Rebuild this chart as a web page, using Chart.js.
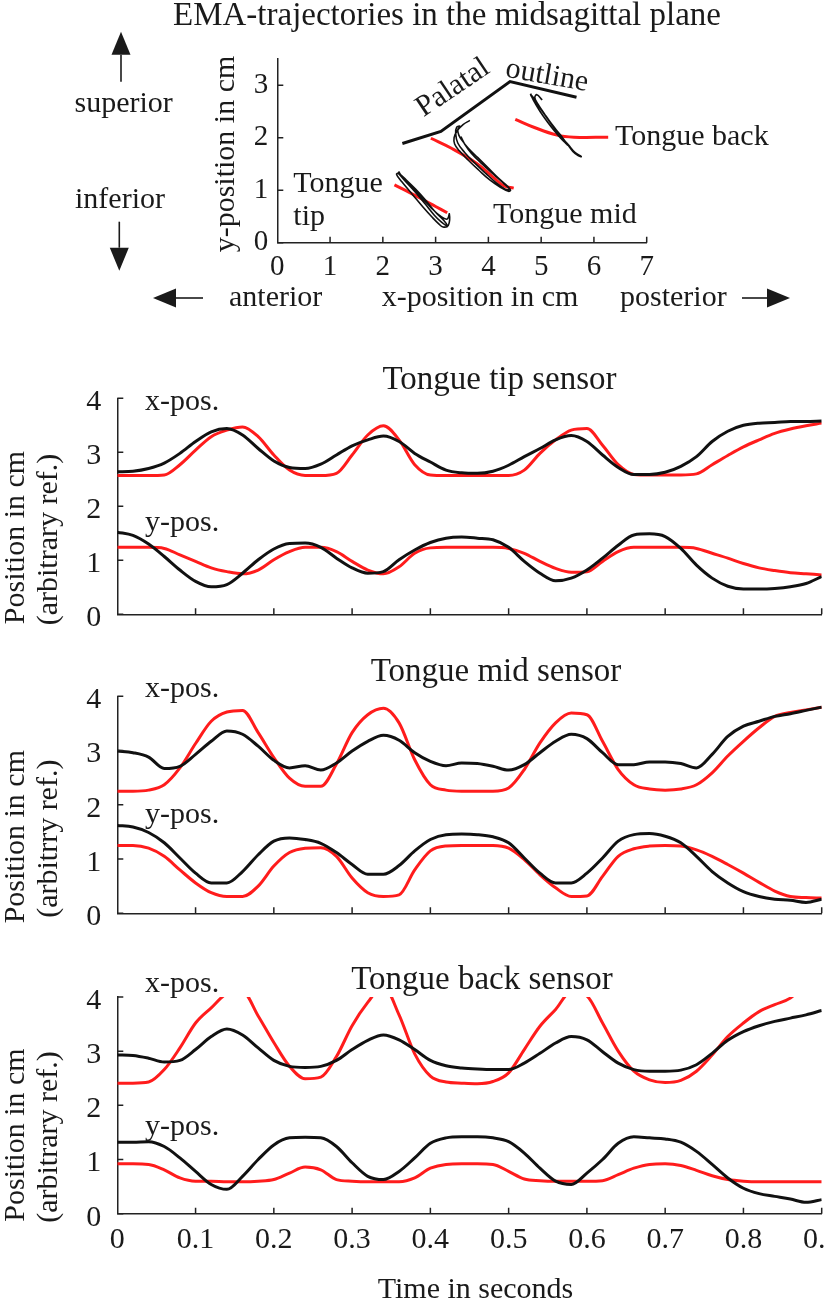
<!DOCTYPE html>
<html>
<head>
<meta charset="utf-8">
<script src="https://cdn.jsdelivr.net/npm/chart.js@4.4.1/dist/chart.umd.min.js"></script>
<style>
html,body{margin:0;padding:0;background:#fff;width:826px;height:1302px;overflow:hidden}
canvas{position:absolute;left:0;top:0}
</style>
</head>
<body>
<canvas id="c0" width="826" height="1302"></canvas>
<canvas id="c1" width="826" height="1302"></canvas>
<canvas id="c2" width="826" height="1302"></canvas>
<canvas id="c3" width="826" height="1302"></canvas>
<script>
// ---------------- DATA ----------------
// Time axis (seconds)
const times = [0,0.02,0.04,0.06,0.08,0.10,0.12,0.14,0.16,0.18,0.20,0.22,0.24,0.26,0.28,0.30,0.32,0.34,0.36,0.38,0.40,0.42,0.44,0.46,0.48,0.50,0.52,0.54,0.56,0.58,0.60,0.62,0.64,0.66,0.68,0.70,0.72,0.74,0.76,0.78,0.80,0.82,0.84,0.86,0.88,0.90];
const timeTicks = [0,0.1,0.2,0.3,0.4,0.5,0.6,0.7,0.8,0.9];

// Tongue tip sensor (measured = black, model = red)
const tipXMeasured = [2.64,2.65,2.70,2.80,2.98,3.20,3.38,3.44,3.32,3.07,2.84,2.72,2.70,2.78,2.95,3.12,3.23,3.30,3.20,2.98,2.82,2.67,2.62,2.61,2.65,2.76,2.92,3.07,3.23,3.31,3.20,2.95,2.72,2.59,2.59,2.63,2.74,2.92,3.20,3.39,3.50,3.54,3.55,3.57,3.57,3.58];
const tipXModel    = [2.57,2.57,2.57,2.58,2.77,3.04,3.29,3.41,3.47,3.29,2.95,2.67,2.57,2.57,2.61,2.95,3.32,3.49,3.23,2.77,2.58,2.57,2.57,2.57,2.57,2.57,2.67,2.98,3.23,3.41,3.44,3.13,2.77,2.59,2.58,2.58,2.58,2.60,2.77,2.94,3.10,3.23,3.35,3.43,3.49,3.54];
const tipYMeasured = [1.52,1.46,1.30,1.07,0.82,0.61,0.51,0.55,0.76,1.01,1.21,1.31,1.32,1.24,1.04,0.86,0.76,0.79,1.01,1.19,1.33,1.41,1.43,1.41,1.38,1.24,0.98,0.76,0.62,0.67,0.82,1.04,1.28,1.47,1.49,1.44,1.22,0.91,0.67,0.52,0.47,0.47,0.48,0.51,0.57,0.70];
const tipYModel    = [1.24,1.24,1.24,1.22,1.10,0.98,0.86,0.79,0.75,0.82,1.01,1.16,1.24,1.24,1.16,0.98,0.82,0.75,0.88,1.13,1.23,1.24,1.24,1.24,1.24,1.22,1.13,0.98,0.85,0.78,0.79,0.98,1.16,1.24,1.24,1.24,1.24,1.22,1.13,1.04,0.94,0.86,0.81,0.77,0.75,0.73];

// Tongue mid sensor
const midXMeasured = [2.99,2.96,2.88,2.67,2.71,2.93,3.17,3.36,3.30,3.08,2.82,2.68,2.72,2.64,2.77,2.99,3.17,3.28,3.19,2.96,2.80,2.72,2.77,2.76,2.71,2.64,2.74,2.96,3.17,3.30,3.22,2.96,2.74,2.74,2.79,2.79,2.76,2.68,2.93,3.26,3.45,3.54,3.63,3.68,3.74,3.80];
const midXModel    = [2.25,2.25,2.27,2.37,2.68,3.13,3.54,3.71,3.74,3.33,2.87,2.49,2.34,2.34,2.75,3.33,3.66,3.78,3.51,2.83,2.37,2.27,2.25,2.25,2.25,2.31,2.65,3.14,3.51,3.69,3.66,3.17,2.65,2.37,2.29,2.27,2.29,2.37,2.59,2.90,3.17,3.42,3.63,3.70,3.75,3.80];
const midYMeasured = [1.62,1.59,1.49,1.30,1.02,0.74,0.56,0.56,0.77,1.08,1.33,1.39,1.36,1.29,1.12,0.90,0.72,0.72,0.88,1.15,1.36,1.45,1.46,1.45,1.41,1.30,1.02,0.74,0.56,0.56,0.74,1.02,1.33,1.45,1.47,1.42,1.30,1.05,0.77,0.56,0.40,0.31,0.26,0.24,0.20,0.26];
const midYModel    = [1.25,1.25,1.20,1.05,0.80,0.56,0.38,0.31,0.31,0.50,0.87,1.12,1.20,1.21,1.05,0.65,0.38,0.31,0.34,0.80,1.15,1.24,1.25,1.25,1.25,1.20,0.99,0.71,0.47,0.31,0.32,0.68,1.05,1.19,1.24,1.25,1.24,1.17,1.05,0.90,0.74,0.57,0.41,0.31,0.29,0.28];

// Tongue back sensor
const backXMeasured = [2.93,2.92,2.87,2.80,2.83,3.03,3.27,3.41,3.30,3.06,2.83,2.72,2.70,2.72,2.83,3.03,3.20,3.30,3.21,3.03,2.83,2.73,2.69,2.67,2.66,2.66,2.78,2.96,3.15,3.27,3.21,2.99,2.78,2.66,2.63,2.63,2.65,2.75,2.96,3.20,3.36,3.47,3.55,3.61,3.67,3.75];
const backXModel    = [2.41,2.41,2.43,2.66,3.06,3.52,3.80,4.06,4.10,3.65,3.16,2.72,2.49,2.52,2.90,3.47,3.90,4.20,3.67,2.95,2.54,2.43,2.41,2.40,2.44,2.60,3.03,3.46,3.77,4.10,4.02,3.52,3.00,2.63,2.47,2.42,2.46,2.63,2.93,3.27,3.52,3.73,3.86,3.98,4.25,4.40];
const backYMeasured = [1.32,1.32,1.33,1.24,1.03,0.78,0.54,0.45,0.69,1.00,1.27,1.40,1.41,1.40,1.24,0.94,0.69,0.63,0.78,1.03,1.30,1.40,1.42,1.42,1.40,1.33,1.12,0.84,0.60,0.54,0.75,1.00,1.30,1.42,1.40,1.38,1.32,1.15,0.91,0.66,0.47,0.37,0.32,0.27,0.21,0.26];
const backYModel    = [0.92,0.92,0.91,0.81,0.66,0.60,0.60,0.59,0.59,0.60,0.63,0.75,0.86,0.81,0.63,0.60,0.59,0.59,0.59,0.66,0.84,0.91,0.92,0.92,0.91,0.78,0.64,0.61,0.60,0.60,0.60,0.61,0.72,0.84,0.91,0.92,0.89,0.80,0.70,0.63,0.60,0.59,0.59,0.59,0.59,0.59];

// Midsagittal trajectories (x, y in cm)
const palatalX = [2.37,3.10,4.41,5.67];
const palatalY = [1.89,2.12,3.07,2.77];
const tipTrajX = [2.28,2.40,2.60,2.80,2.98,3.10,3.18,3.22,3.16,3.00,2.82,2.62,2.44,2.30,2.26,2.36,2.56,2.76,2.94,3.06,3.14,3.24,3.26,3.22,3.10,2.92,2.72,2.52,2.36,2.30];
const tipTrajY = [1.34,1.20,0.98,0.74,0.52,0.40,0.34,0.33,0.42,0.58,0.80,1.02,1.20,1.32,1.30,1.16,0.92,0.68,0.48,0.36,0.30,0.33,0.55,0.45,0.50,0.66,0.88,1.10,1.26,1.36];
const midTrajX = [3.65,3.52,3.40,3.35,3.36,3.45,3.62,3.82,4.02,4.22,4.38,4.42,4.36,4.20,4.00,3.80,3.62,3.50,3.44,3.42,3.46,3.40,3.38,3.42,3.55,3.74,3.95,4.15,4.32,4.40,4.30,4.10,3.88,3.68,3.55,3.48];
const midTrajY = [2.33,2.25,2.12,2.00,1.88,1.75,1.57,1.38,1.20,1.06,0.98,1.00,1.08,1.22,1.42,1.62,1.80,1.95,2.05,2.15,2.22,2.20,2.08,1.90,1.72,1.52,1.32,1.14,1.02,1.02,1.12,1.30,1.50,1.70,1.88,2.02];
const backTrajX = [4.80,4.86,4.98,5.12,5.26,5.38,5.46,5.50,5.42,5.28,5.12,4.98,4.86,4.80,4.84,4.96,5.10,5.24,5.38,5.52,5.64,5.76,5.70,5.60,5.48,5.36,5.20,5.06,4.94,4.88,4.92,5.02];
const backTrajY = [2.84,2.70,2.50,2.30,2.12,1.98,1.90,1.86,1.96,2.14,2.36,2.56,2.72,2.82,2.78,2.60,2.40,2.20,2.02,1.86,1.72,1.64,1.66,1.74,1.90,2.06,2.26,2.46,2.64,2.76,2.82,2.72];
const tipModelX = [2.22,2.50,2.80,3.00,3.22];
const tipModelY = [1.10,0.96,0.80,0.69,0.57];
const midModelX = [2.91,3.30,3.78,4.10,4.30,4.48];
const midModelY = [1.99,1.80,1.51,1.24,1.08,1.04];
const backModelX = [4.51,4.86,5.30,5.62,6.27];
const backModelY = [2.35,2.20,2.05,2.01,2.01];

// ---------------- STYLE / HELPERS ----------------
const FONT = "'Liberation Serif', 'Times New Roman', Times, serif";
const TXT = '#1a1a1a', AX = '#222', BLK = '#111', RED = 'rgb(255,28,28)';
Chart.defaults.font.family = FONT;
Chart.defaults.color = TXT;
Chart.defaults.animation = false;
const PW = 826, PH = 1302, AXW = 60, AXH = 40;

const toXY = (xs, ys) => xs.map((x, i) => ({x: x, y: ys[i]}));

function fixScale(w, h) {
  return function (s) {
    if (w != null) s.width = w;
    if (h != null) s.height = h;
    s.paddingLeft = 0; s.paddingRight = 0; s.paddingTop = 0; s.paddingBottom = 0;
  };
}

const textPlugin = {
  id: 'texts',
  afterDraw(chart, args, opts) {
    const ctx = chart.ctx;
    (opts.items || []).forEach(it => {
      ctx.save();
      ctx.font = (it.size || 30) + 'px ' + FONT;
      ctx.fillStyle = TXT;
      ctx.textAlign = it.align || 'center';
      ctx.textBaseline = it.base || 'alphabetic';
      ctx.translate(it.x, it.y);
      if (it.rot) ctx.rotate(it.rot * Math.PI / 180);
      ctx.fillText(it.text, 0, 0);
      ctx.restore();
    });
    (opts.arrows || []).forEach(a => {
      const dx = a.x2 - a.x1, dy = a.y2 - a.y1, len = Math.hypot(dx, dy);
      const ux = dx / len, uy = dy / len, hl = 23, hw = 9.5;
      const bx = a.x2 - ux * hl, by = a.y2 - uy * hl;
      ctx.save();
      ctx.strokeStyle = TXT; ctx.fillStyle = TXT; ctx.lineWidth = 1.6;
      ctx.beginPath(); ctx.moveTo(a.x1, a.y1); ctx.lineTo(bx, by); ctx.stroke();
      ctx.beginPath(); ctx.moveTo(a.x2, a.y2);
      ctx.lineTo(bx - uy * hw, by + ux * hw); ctx.lineTo(bx + uy * hw, by - ux * hw);
      ctx.closePath(); ctx.fill();
      ctx.restore();
    });
  }
};

const innerTicks = {
  id: 'innerTicks',
  afterDraw(chart, args, opts) {
    const ctx = chart.ctx, a = chart.chartArea, L = opts.len || 6;
    const xs = chart.scales.x, ys = chart.scales.y;
    ctx.save(); ctx.strokeStyle = AX; ctx.lineWidth = 1.5;
    ctx.beginPath();
    xs.ticks.forEach(t => {
      if (t.value <= xs.min + 1e-9) return;
      const p = xs.getPixelForValue(t.value);
      ctx.moveTo(p, a.bottom); ctx.lineTo(p, a.bottom - L);
    });
    ys.ticks.forEach(t => {
      const p = ys.getPixelForValue(t.value);
      ctx.moveTo(a.left, p); ctx.lineTo(a.left + L, p);
    });
    ctx.stroke(); ctx.restore();
  }
};

function lineDs(xs, ys, color, width, tension) {
  return { data: toXY(xs, ys), showLine: true, borderColor: color, backgroundColor: color,
    borderWidth: width, pointRadius: 0, tension: tension, fill: false };
}
function seriesDs(vals, color) {
  return { data: toXY(times, vals), borderColor: color, backgroundColor: color, borderWidth: 3,
    pointRadius: 0, cubicInterpolationMode: 'monotone', fill: false, clip: 0 };
}

// ---------------- TOP: trajectories ----------------
(function () {
  const area = {l: 277.3, r: 646.7, t: 59, b: 242.7};
  new Chart(document.getElementById('c0'), {
    type: 'scatter',
    data: { datasets: [
      lineDs(palatalX, palatalY, BLK, 3, 0),
      lineDs(tipTrajX, tipTrajY, BLK, 1.6, 0.4),
      lineDs(midTrajX, midTrajY, BLK, 1.6, 0.4),
      lineDs(backTrajX, backTrajY, BLK, 1.6, 0.4),
      lineDs(tipModelX, tipModelY, RED, 3, 0.4),
      lineDs(midModelX, midModelY, RED, 3, 0.4),
      lineDs(backModelX, backModelY, RED, 3, 0.4)
    ]},
    options: {
      responsive: false, events: [],
      layout: { padding: { left: area.l - AXW, right: PW - area.r, top: area.t, bottom: PH - area.b - AXH } },
      plugins: {
        legend: {display: false}, tooltip: {enabled: false},
        innerTicks: {len: 6},
        texts: {
          items: [
            {text: 'EMA-trajectories in the midsagittal plane', x: 173, y: 25, size: 33, align: 'left'},
            {text: 'superior', x: 123.7, y: 111.7},
            {text: 'inferior', x: 120, y: 208.3},
            {text: 'y-position in cm', x: 234, y: 154, rot: -90},
            {text: 'Tongue', x: 293.3, y: 191.7, align: 'left'},
            {text: 'tip', x: 293.3, y: 225, align: 'left'},
            {text: 'Tongue mid', x: 493, y: 223.3, align: 'left'},
            {text: 'Tongue back', x: 615, y: 145, align: 'left'},
            {text: 'Palatal', x: 453, y: 88, rot: -34, base: 'middle'},
            {text: 'outline', x: 547, y: 76, rot: 10, base: 'middle'},
            {text: 'anterior', x: 229, y: 306, align: 'left'},
            {text: 'x-position in cm', x: 480, y: 306},
            {text: 'posterior', x: 620, y: 306, align: 'left'}
          ],
          arrows: [
            {x1: 121, y1: 81.7, x2: 121, y2: 31.7},
            {x1: 119.3, y1: 221.7, x2: 119.3, y2: 270.7},
            {x1: 203, y1: 298, x2: 153, y2: 298},
            {x1: 742, y1: 298, x2: 790, y2: 298}
          ]
        }
      },
      scales: {
        x: { type: 'linear', min: 0, max: 7,
          ticks: {stepSize: 1, padding: 7, autoSkip: false, maxRotation: 0, font: {size: 29}, color: TXT},
          grid: {drawOnChartArea: false, drawTicks: false}, border: {color: AX, width: 1.5},
          afterFit: fixScale(null, AXH) },
        y: { type: 'linear', min: 0, max: 3.5,
          ticks: {stepSize: 1, padding: 9, includeBounds: false, font: {size: 29}, color: TXT},
          grid: {drawOnChartArea: false, drawTicks: false}, border: {color: AX, width: 1.5},
          afterFit: fixScale(AXW, null) }
      }
    },
    plugins: [textPlugin, innerTicks]
  });
})();

// ---------------- TIME-SERIES PANELS ----------------
function makePanel(id, area, sets, showX, texts) {
  new Chart(document.getElementById(id), {
    type: 'line',
    data: { datasets: sets },
    options: {
      responsive: false, events: [],
      layout: { padding: { left: area.l - AXW, right: PW - area.r, top: area.t, bottom: PH - area.b - AXH } },
      plugins: {
        legend: {display: false}, tooltip: {enabled: false},
        innerTicks: {len: 6},
        texts: {items: texts}
      },
      scales: {
        x: { type: 'linear', min: 0, max: 0.9,
          afterBuildTicks: s => { s.ticks = timeTicks.map(v => ({value: v})); },
          ticks: {display: showX, padding: 8, autoSkip: false, maxRotation: 0, font: {size: 30}, color: TXT},
          grid: {drawOnChartArea: false, drawTicks: false}, border: {color: AX, width: 1.5},
          afterFit: fixScale(null, AXH) },
        y: { type: 'linear', min: 0, max: 4,
          ticks: {stepSize: 1, padding: 16, labelOffset: 4, font: {size: 30}, color: TXT},
          grid: {drawOnChartArea: false, drawTicks: false}, border: {color: AX, width: 1.5},
          afterFit: fixScale(AXW, null) }
      }
    },
    plugins: [textPlugin, innerTicks]
  });
}

function yTitle(cy, second) {
  return [
    {text: 'Position in cm', x: 23.6, y: cy, rot: -90},
    {text: second, x: 56.5, y: cy + 2, rot: -90}
  ];
}

makePanel('c1', {l: 117.3, r: 821.7, t: 398.3, b: 614.3},
  [seriesDs(tipXMeasured, BLK), seriesDs(tipXModel, RED), seriesDs(tipYMeasured, BLK), seriesDs(tipYModel, RED)],
  false,
  [{text: 'Tongue tip sensor', x: 499.5, y: 389, size: 33},
   {text: 'x-pos.', x: 145, y: 410, align: 'left'},
   {text: 'y-pos.', x: 145, y: 531, align: 'left'}].concat(yTitle(537.5, '(arbitrary ref.)')));

makePanel('c2', {l: 117.3, r: 821.7, t: 696.3, b: 913.3},
  [seriesDs(midXMeasured, BLK), seriesDs(midXModel, RED), seriesDs(midYMeasured, BLK), seriesDs(midYModel, RED)],
  false,
  [{text: 'Tongue mid sensor', x: 496, y: 681, size: 33},
   {text: 'x-pos.', x: 145, y: 697, align: 'left'},
   {text: 'y-pos.', x: 145, y: 823, align: 'left'}].concat(yTitle(836.7, '(arbitrry ref.)')));

makePanel('c3', {l: 117.3, r: 821.7, t: 997, b: 1213.7},
  [seriesDs(backXMeasured, BLK), seriesDs(backXModel, RED), seriesDs(backYMeasured, BLK), seriesDs(backYModel, RED)],
  true,
  [{text: 'Tongue back sensor', x: 482, y: 989, size: 33},
   {text: 'x-pos.', x: 145, y: 992, align: 'left'},
   {text: 'y-pos.', x: 145, y: 1135, align: 'left'},
   {text: 'Time in seconds', x: 475.5, y: 1298}].concat(yTitle(1135, '(arbitrary ref.)')));
</script>
</body>
</html>
